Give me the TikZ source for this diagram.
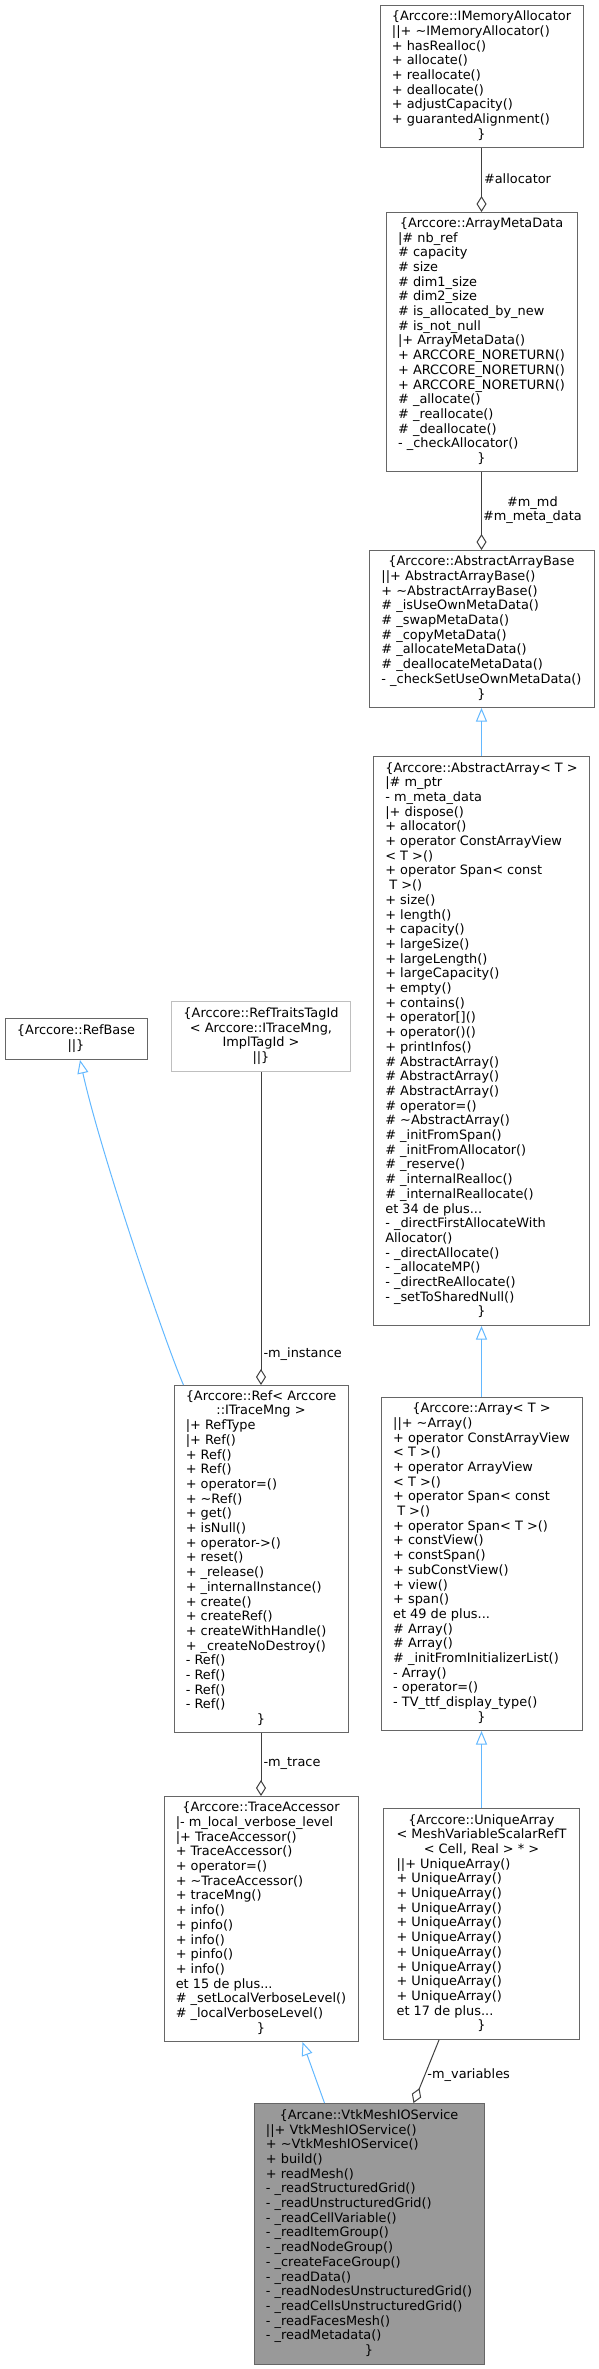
\documentclass[tikz,border=0pt]{standalone}
\usepackage{fontspec}
\setmainfont{DejaVu Sans}
\usetikzlibrary{arrows.meta, positioning}
\definecolor{grey25}{HTML}{404040}
\definecolor{grey40}{HTML}{666666}
\definecolor{grey60}{HTML}{999999}
\definecolor{grey75}{HTML}{BFBFBF}
\definecolor{steelblue}{HTML}{63B8FF}
\newcommand{\ttl}[1]{\multicolumn{1}{@{}c@{}}{#1}}
\tikzset{
  cls/.style = {draw=grey40, fill=white, line width=1pt, inner sep=0pt,
                font=\fontsize{12.9}{14.7}\selectfont},
  inh/.style = {draw=steelblue, line width=1pt,
                -{Triangle[open, length=13.5pt, width=11pt]}},
  agg/.style = {draw=grey25, line width=1pt,
                -{Diamond[open, length=16pt, width=10pt]}},
  lbl/.style = {font=\fontsize{12.9}{14.7}\selectfont, inner sep=2pt}
}

\begin{document}
\begin{tikzpicture}[x=1pt, y=1pt]

  \useasboundingbox (0,0) rectangle (599,-2369);

  % ── Arccore array column (right) ──────────────────────────────────────────
  \node[cls, minimum width=203pt, minimum height=142pt, anchor=north] (IMA) at (481.5,-5)
    {\begin{tabular}{@{}l@{}}
      \ttl{\{Arccore::IMemoryAllocator}\\
      ||+ \textasciitilde IMemoryAllocator()\\
      + hasRealloc()\\
      + allocate()\\
      + reallocate()\\
      + deallocate()\\
      + adjustCapacity()\\
      + guarantedAlignment()\\
      \ttl{\}}
    \end{tabular}};
  \node[cls, minimum width=191pt, minimum height=259pt, below=64pt of IMA] (AMD)
    {\begin{tabular}{@{}l@{}}
      \ttl{\{Arccore::ArrayMetaData}\\
      |\# nb\_ref\\
      \# capacity\\
      \# size\\
      \# dim1\_size\\
      \# dim2\_size\\
      \# is\_allocated\_by\_new\\
      \# is\_not\_null\\
      |+ ArrayMetaData()\\
      + ARCCORE\_NORETURN()\\
      + ARCCORE\_NORETURN()\\
      + ARCCORE\_NORETURN()\\
      \# \_allocate()\\
      \# \_reallocate()\\
      \# \_deallocate()\\
      - \_checkAllocator()\\
      \ttl{\}}
    \end{tabular}};
  \node[cls, minimum width=225pt, minimum height=157pt, below=78pt of AMD] (AAB)
    {\begin{tabular}{@{}l@{}}
      \ttl{\{Arccore::AbstractArrayBase}\\
      ||+ AbstractArrayBase()\\
      + \textasciitilde AbstractArrayBase()\\
      \# \_isUseOwnMetaData()\\
      \# \_swapMetaData()\\
      \# \_copyMetaData()\\
      \# \_allocateMetaData()\\
      \# \_deallocateMetaData()\\
      - \_checkSetUseOwnMetaData()\\
      \ttl{\}}
    \end{tabular}};
  \node[cls, minimum width=216pt, minimum height=569pt, below=48pt of AAB] (AA)
    {\begin{tabular}{@{}l@{}}
      \ttl{\{Arccore::AbstractArray< T >}\\
      |\# m\_ptr\\
      - m\_meta\_data\\
      |+ dispose()\\
      + allocator()\\
      + operator ConstArrayView\\
      < T >()\\
      + operator Span< const\\
      \ T >()\\
      + size()\\
      + length()\\
      + capacity()\\
      + largeSize()\\
      + largeLength()\\
      + largeCapacity()\\
      + empty()\\
      + contains()\\
      + operator[]()\\
      + operator()()\\
      + printInfos()\\
      \# AbstractArray()\\
      \# AbstractArray()\\
      \# AbstractArray()\\
      \# operator=()\\
      \# \textasciitilde AbstractArray()\\
      \# \_initFromSpan()\\
      \# \_initFromAllocator()\\
      \# \_reserve()\\
      \# \_internalRealloc()\\
      \# \_internalReallocate()\\
      et 34 de plus...\\
      - \_directFirstAllocateWith\\
      Allocator()\\
      - \_directAllocate()\\
      - \_allocateMP()\\
      - \_directReAllocate()\\
      - \_setToSharedNull()\\
      \ttl{\}}
    \end{tabular}};
  \node[cls, minimum width=201pt, minimum height=333pt, below=71pt of AA] (Arr)
    {\begin{tabular}{@{}l@{}}
      \ttl{\{Arccore::Array< T >}\\
      ||+ \textasciitilde Array()\\
      + operator ConstArrayView\\
      < T >()\\
      + operator ArrayView\\
      < T >()\\
      + operator Span< const\\
      \ T >()\\
      + operator Span< T >()\\
      + constView()\\
      + constSpan()\\
      + subConstView()\\
      + view()\\
      + span()\\
      et 49 de plus...\\
      \# Array()\\
      \# Array()\\
      \# \_initFromInitializerList()\\
      - Array()\\
      - operator=()\\
      - TV\_ttf\_display\_type()\\
      \ttl{\}}
    \end{tabular}};
  \node[cls, minimum width=196pt, minimum height=231pt, below=77pt of Arr] (UA)
    {\begin{tabular}{@{}l@{}}
      \ttl{\{Arccore::UniqueArray}\\
      \ttl{< MeshVariableScalarRefT}\\
      \ttl{< Cell, Real > * >}\\
      ||+ UniqueArray()\\
      + UniqueArray()\\
      + UniqueArray()\\
      + UniqueArray()\\
      + UniqueArray()\\
      + UniqueArray()\\
      + UniqueArray()\\
      + UniqueArray()\\
      + UniqueArray()\\
      + UniqueArray()\\
      et 17 de plus...\\
      \ttl{\}}
    \end{tabular}};

  % ── Trace column (left) ───────────────────────────────────────────────────
  \node[cls, minimum width=194pt, minimum height=245pt, anchor=north] (TA) at (261,-1796)
    {\begin{tabular}{@{}l@{}}
      \ttl{\{Arccore::TraceAccessor}\\
      |- m\_local\_verbose\_level\\
      |+ TraceAccessor()\\
      + TraceAccessor()\\
      + operator=()\\
      + \textasciitilde TraceAccessor()\\
      + traceMng()\\
      + info()\\
      + pinfo()\\
      + info()\\
      + pinfo()\\
      + info()\\
      et 15 de plus...\\
      \# \_setLocalVerboseLevel()\\
      \# \_localVerboseLevel()\\
      \ttl{\}}
    \end{tabular}};
  \node[cls, minimum width=174pt, minimum height=347pt, above=63pt of TA] (Ref)
    {\begin{tabular}{@{}l@{}}
      \ttl{\{Arccore::Ref< Arccore}\\
      \ttl{::ITraceMng >}\\
      |+ RefType\\
      |+ Ref()\\
      + Ref()\\
      + Ref()\\
      + operator=()\\
      + \textasciitilde Ref()\\
      + get()\\
      + isNull()\\
      + operator->()\\
      + reset()\\
      + \_release()\\
      + \_internalInstance()\\
      + create()\\
      + createRef()\\
      + createWithHandle()\\
      + \_createNoDestroy()\\
      - Ref()\\
      - Ref()\\
      - Ref()\\
      - Ref()\\
      \ttl{\}}
    \end{tabular}};
  \node[cls, draw=grey75, minimum width=179pt, minimum height=70pt, above=313pt of Ref] (RTT)
    {\begin{tabular}{@{}c@{}}
      \{Arccore::RefTraitsTagId\\
      < Arccore::ITraceMng,\\
      ImplTagId >\\
      ||\}
    \end{tabular}};
  \node[cls, minimum width=142pt, minimum height=41pt, anchor=north] (RB) at (76,-1018)
    {\begin{tabular}{@{}c@{}}
      \{Arccore::RefBase\\
      ||\}
    \end{tabular}};

  % ── Service ───────────────────────────────────────────────────────────────
  \node[cls, fill=grey60, minimum width=230pt, minimum height=261pt, anchor=north] (Vtk) at (369,-2103)
    {\begin{tabular}{@{}l@{}}
      \ttl{\{Arcane::VtkMeshIOService}\\
      ||+ VtkMeshIOService()\\
      + \textasciitilde VtkMeshIOService()\\
      + build()\\
      + readMesh()\\
      - \_readStructuredGrid()\\
      - \_readUnstructuredGrid()\\
      - \_readCellVariable()\\
      - \_readItemGroup()\\
      - \_readNodeGroup()\\
      - \_createFaceGroup()\\
      - \_readData()\\
      - \_readNodesUnstructuredGrid()\\
      - \_readCellsUnstructuredGrid()\\
      - \_readFacesMesh()\\
      - \_readMetadata()\\
      \ttl{\}}
    \end{tabular}};

  % ── Connections ───────────────────────────────────────────────────────────

  % members (aggregation)
  \draw[agg] (IMA) -- node[lbl, right, pos=0.48] {\#allocator} (AMD);
  \draw[agg] (AMD) -- node[lbl, right, align=center, pos=0.49, inner sep=1pt]
        {\#m\_md\\\#m\_meta\_data} (AAB);
  \draw[agg] (RTT) -- node[lbl, right, pos=0.9] {-m\_instance} (Ref);
  \draw[agg] (Ref) -- node[lbl, right, pos=0.48] {-m\_trace} (TA);
  \draw[agg] ([xshift=56pt]UA.south west) -- node[lbl, right, pos=0.55] {-m\_variables}
        ([xshift=160pt]Vtk.north west);

  % inheritance
  \draw[inh] (AA) -- (AAB);
  \draw[inh] (Arr) -- (AA);
  \draw[inh] (UA) -- (Arr);
  \draw[inh] ([xshift=10pt]Ref.north west) .. controls +(-18,41) and +(20,-91) .. ([xshift=4pt]RB.south);
  \draw[inh] ([xshift=71pt]Vtk.north west) -- ([xshift=139pt]TA.south west);

\end{tikzpicture}
\end{document}
